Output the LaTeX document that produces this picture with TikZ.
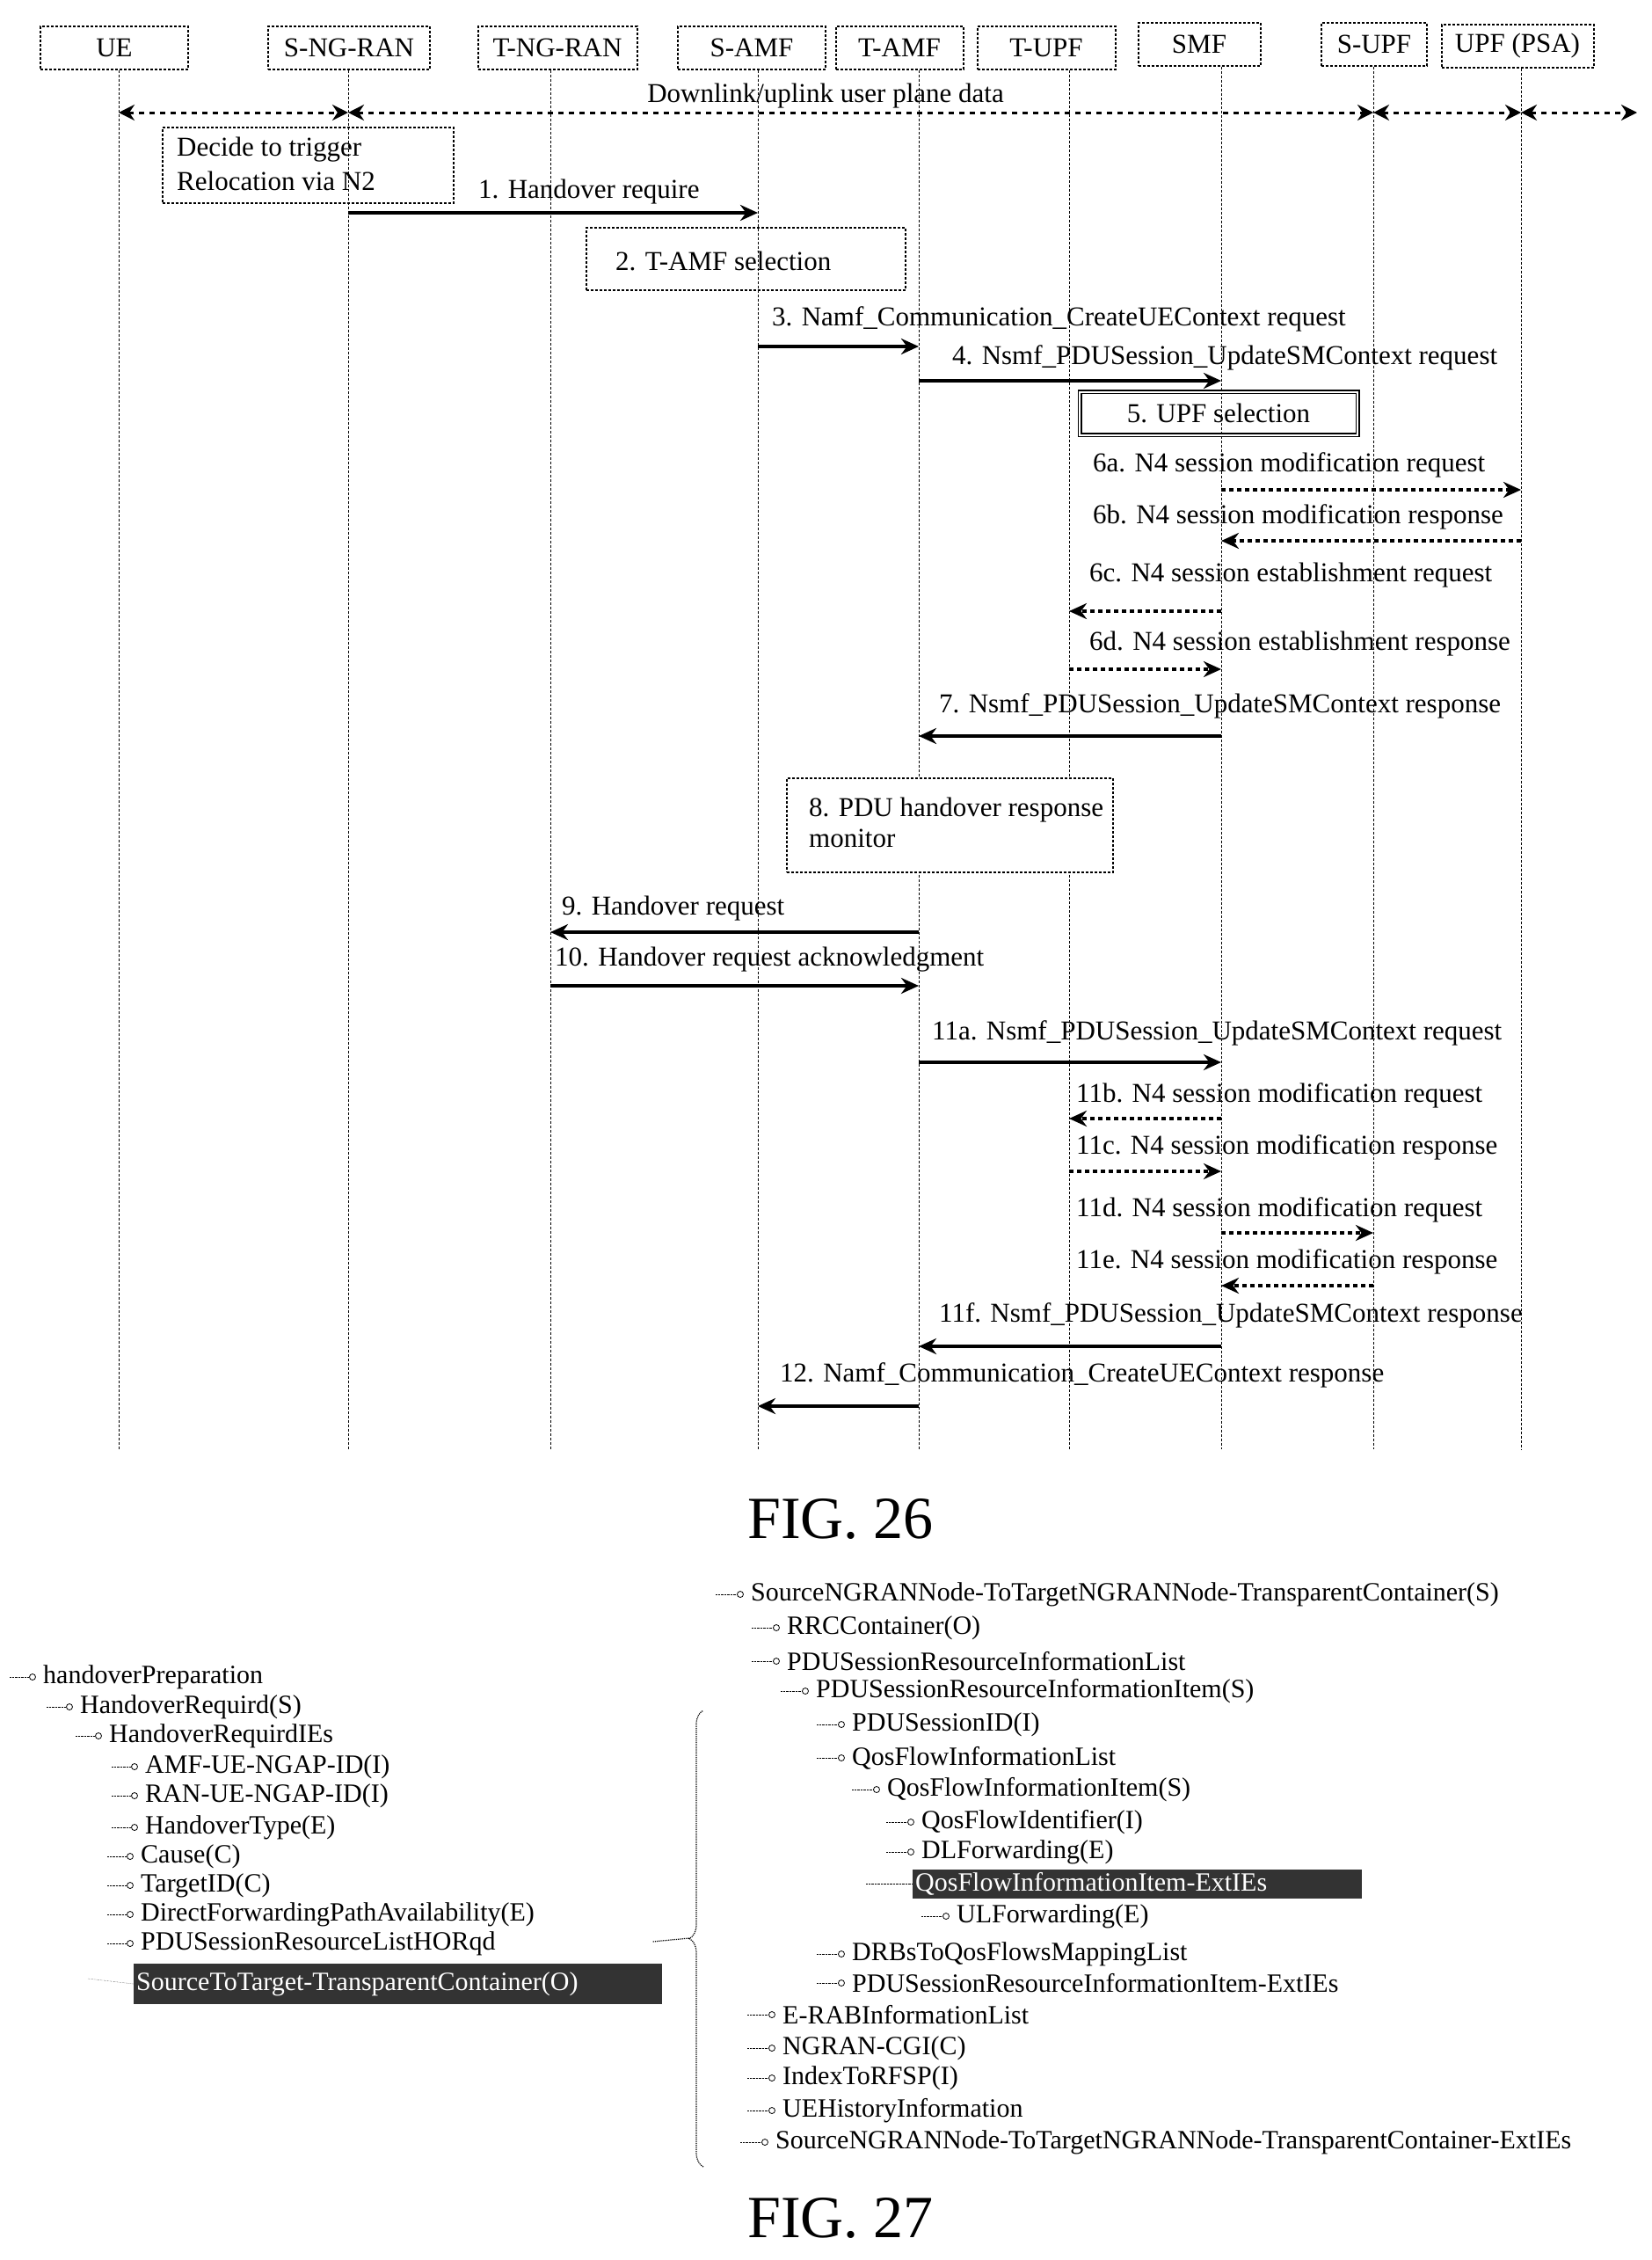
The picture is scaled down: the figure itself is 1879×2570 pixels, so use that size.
\documentclass[tikz,border=0pt]{standalone}
\usepackage{fontspec}
\setmainfont{Liberation Serif}
\usetikzlibrary{arrows.meta,decorations.pathreplacing,calc}
\begin{document}
\begin{tikzpicture}[x=1pt,y=-1pt,
  hdr/.style={draw,densely dashed,line width=2pt,minimum height=49pt,inner sep=2pt,font=\fontsize{31}{34}\selectfont},
  life/.style={densely dashed,line width=0.8pt},
  lbl/.style={anchor=west,inner sep=0pt,font=\fontsize{31}{36}\selectfont},
  msg/.style={line width=3.5pt,-{Stealth[length=20pt,width=18pt]}},
  dmsg/.style={line width=3.5pt,dash pattern=on 5pt off 4pt,-{Stealth[length=20pt,width=18pt]}},
  dat/.style={line width=3pt,dash pattern=on 6pt off 6pt,{Stealth[length=18pt,width=18pt]}-{Stealth[length=18pt,width=18pt]}},
  actbox/.style={draw,densely dashed,line width=2pt},
  tr/.style={anchor=west,inner sep=0pt,font=\fontsize{30}{33}\selectfont},
  ic/.style={draw,circle,inner sep=0pt,minimum size=7pt,line width=0.8pt},
  hl/.style={fill=black!80,text=white,anchor=west,inner sep=3pt,align=left,font=\fontsize{30}{33}\selectfont},
  fig/.style={font=\fontsize{68}{76}\selectfont}]
\useasboundingbox (0,0) rectangle (1879,2570);
\node[hdr,minimum width=168pt] (ue) at (130,54) {UE};
\node[hdr,minimum width=184pt] (sng) at (397,54) {S-NG-RAN};
\node[hdr,minimum width=181pt] (tng) at (634,54) {T-NG-RAN};
\node[hdr,minimum width=168pt] (samf) at (855,54) {S-AMF};
\node[hdr,minimum width=145pt] (tamf) at (1023,54) {T-AMF};
\node[hdr,minimum width=157pt] (tupf) at (1190,54) {T-UPF};
\node[hdr,minimum width=139pt] (smf) at (1364,50) {SMF};
\node[hdr,minimum width=120pt] (supf) at (1563,50) {S-UPF};
\node[hdr,minimum width=173pt] (psa) at (1726,52) {UPF (PSA)};
\coordinate (xue) at (135,0); \coordinate (xsng) at (396,0); \coordinate (xtng) at (626,0);
\coordinate (xsamf) at (862,0); \coordinate (xtamf) at (1045,0); \coordinate (xtupf) at (1216,0);
\coordinate (xsmf) at (1389,0); \coordinate (xsupf) at (1562,0); \coordinate (xpsa) at (1730,0);
\coordinate (lend) at (0,1648);
\foreach \n in {ue,sng,tng,samf,tamf,tupf,smf,supf,psa}{
  \draw[life] (x\n |- \n.south) -- (x\n |- lend);
}
\node[inner sep=0pt,font=\fontsize{31}{34}\selectfont] (dtxt) at (939,109) {Downlink/uplink user plane data};
\coordinate (rend) at (1862,128);
\draw[dat] (xue |- rend) -- (xsng |- rend);
\draw[dat] (xsng |- rend) -- (xsupf |- rend);
\draw[dat] (xsupf |- rend) -- (xpsa |- rend);
\draw[dat] (xpsa |- rend) -- (rend);
\node[actbox,minimum width=331pt,minimum height=86pt] (dbox) at (350,188) {};
\node[lbl] (dt1) at (201,170) {Decide to trigger};
\node[lbl] (dt2) at (201,206) {Relocation via N2};
\node[lbl] (l1) at (544,218) {1. Handover require};
\coordinate (r1) at (0,242);
\draw[msg] (xsng |- r1) -- (xsamf |- r1);
\node[actbox,minimum width=363pt,minimum height=71pt] (b2) at (848,294) {};
\node[lbl] (t2) at (700,297) {2. T-AMF selection};
\node[lbl] (l3) at (878,363) {3. Namf\_Communication\_CreateUEContext request};
\coordinate (r3) at (0,394);
\draw[msg] (xsamf |- r3) -- (xtamf |- r3);
\node[lbl] (l4) at (1083,407) {4. Nsmf\_PDUSession\_UpdateSMContext request};
\coordinate (r4) at (0,433);
\draw[msg] (xtamf |- r4) -- (xsmf |- r4);
\node[draw,double,line width=1.5pt,double distance=2pt,minimum width=316pt,minimum height=49pt,font=\fontsize{31}{34}\selectfont] (b5) at (1386,470) {5. UPF selection};
\node[lbl] (l6a) at (1243,529) {6a. N4 session modification request};
\coordinate (r6a) at (0,557); \draw[dmsg] (xsmf |- r6a) -- (xpsa |- r6a);
\node[lbl] (l6b) at (1243,588) {6b. N4 session modification response};
\coordinate (r6b) at (0,615); \draw[dmsg] (xpsa |- r6b) -- (xsmf |- r6b);
\node[lbl] (l6c) at (1239,654) {6c. N4 session establishment request};
\coordinate (r6c) at (0,695); \draw[dmsg] (xsmf |- r6c) -- (xtupf |- r6c);
\node[lbl] (l6d) at (1239,732) {6d. N4 session establishment response};
\coordinate (r6d) at (0,761); \draw[dmsg] (xtupf |- r6d) -- (xsmf |- r6d);
\node[lbl] (l7) at (1068,803) {7. Nsmf\_PDUSession\_UpdateSMContext response};
\coordinate (r7) at (0,837); \draw[msg] (xsmf |- r7) -- (xtamf |- r7);
\node[actbox,fill=white,minimum width=371pt,minimum height=107pt] (b8) at (1080,938) {};
\node[lbl] (t8a) at (920,921) {8. PDU handover response};
\node[lbl] (t8b) at (920,953) {monitor};
\node[lbl] (l9) at (639,1033) {9. Handover request};
\coordinate (r9) at (0,1060); \draw[msg] (xtamf |- r9) -- (xtng |- r9);
\node[lbl] (l10) at (631,1091) {10. Handover request acknowledgment};
\coordinate (r10) at (0,1121); \draw[msg] (xtng |- r10) -- (xtamf |- r10);
\node[lbl] (l11a) at (1060,1175) {11a. Nsmf\_PDUSession\_UpdateSMContext request};
\coordinate (r11a) at (0,1208); \draw[msg] (xtamf |- r11a) -- (xsmf |- r11a);
\node[lbl] (l11b) at (1224,1246) {11b. N4 session modification request};
\coordinate (r11b) at (0,1272); \draw[dmsg] (xsmf |- r11b) -- (xtupf |- r11b);
\node[lbl] (l11c) at (1224,1305) {11c. N4 session modification response};
\coordinate (r11c) at (0,1332); \draw[dmsg] (xtupf |- r11c) -- (xsmf |- r11c);
\node[lbl] (l11d) at (1224,1376) {11d. N4 session modification request};
\coordinate (r11d) at (0,1402); \draw[dmsg] (xsmf |- r11d) -- (xsupf |- r11d);
\node[lbl] (l11e) at (1224,1435) {11e. N4 session modification response};
\coordinate (r11e) at (0,1462); \draw[dmsg] (xsupf |- r11e) -- (xsmf |- r11e);
\node[lbl] (l11f) at (1068,1496) {11f. Nsmf\_PDUSession\_UpdateSMContext response};
\coordinate (r11f) at (0,1531); \draw[msg] (xsmf |- r11f) -- (xtamf |- r11f);
\node[lbl] (l12) at (887,1564) {12. Namf\_Communication\_CreateUEContext response};
\coordinate (r12) at (0,1599); \draw[msg] (xtamf |- r12) -- (xsamf |- r12);
\node[fig] (f26) at (956,1727) {FIG. 26};
\foreach \x/\y/\t/\n in {49/1907/handoverPreparation/a0, 91/1941/HandoverRequird(S)/a1, 124/1974/HandoverRequirdIEs/a2,
  165/2009/AMF-UE-NGAP-ID(I)/a3, 165/2042/RAN-UE-NGAP-ID(I)/a4, 165/2078/HandoverType(E)/a5,
  160/2111/Cause(C)/a6, 160/2144/TargetID(C)/a7, 160/2177/DirectForwardingPathAvailability(E)/a8,
  160/2210/PDUSessionResourceListHORqd/a9}{
  \node[tr] (\n) at (\x,\y) {\t};
  \node[ic] (i\n) at (\x-12,\y) {};
  \draw[densely dotted] ($(\x-38,\y)$) -- (i\n.west);
}
\node[hl,text width=595pt,minimum height=46pt] (a10) at (152,2256) {SourceToTarget-TransparentContainer(O)};
\draw[densely dotted] (100,2250) -- (a10.west);
\foreach \x/\y/\t/\n in {854/1813/SourceNGRANNode-ToTargetNGRANNode-TransparentContainer(S)/b0,
  895/1851/RRCContainer(O)/b1, 895/1889/PDUSessionResourceInformationList/b2,
  928/1923/PDUSessionResourceInformationItem(S)/b3, 969/1961/PDUSessionID(I)/b4,
  969/1999/QosFlowInformationList/b5, 1009/2035/QosFlowInformationItem(S)/b6,
  1048/2072/QosFlowIdentifier(I)/b7, 1048/2106/DLForwarding(E)/b8,
  1088/2179/ULForwarding(E)/b10, 969/2222/DRBsToQosFlowsMappingList/b11,
  969/2255/PDUSessionResourceInformationItem-ExtIEs/b12, 890/2291/E-RABInformationList/b13,
  890/2329/NGRAN-CGI(C)/b14, 890/2363/IndexToRFSP(I)/b15, 890/2400/UEHistoryInformation/b16,
  882/2436/SourceNGRANNode-ToTargetNGRANNode-TransparentContainer-ExtIEs/b17}{
  \node[tr] (\n) at (\x,\y) {\t};
  \node[ic] (i\n) at (\x-12,\y) {};
  \draw[densely dotted] ($(\x-40,\y)$) -- (i\n.west);
}
\node[hl,text width=505pt,minimum height=33pt] (b9) at (1038,2142) {QosFlowInformationItem-ExtIEs};
\draw[densely dotted] (985,2142) -- (b9.west);
\draw[densely dotted,line width=1.2pt,decorate,decoration={brace,amplitude=16pt}] (800,2464) -- (800,1945);
\coordinate (btip) at (784,2204);
\node[inner sep=0pt] (bt) at (742,2208) {};
\draw[densely dotted,line width=1.2pt] (bt) -- (btip);
\node[fig] (f27) at (956,2522) {FIG. 27};
\end{tikzpicture}
\end{document}
